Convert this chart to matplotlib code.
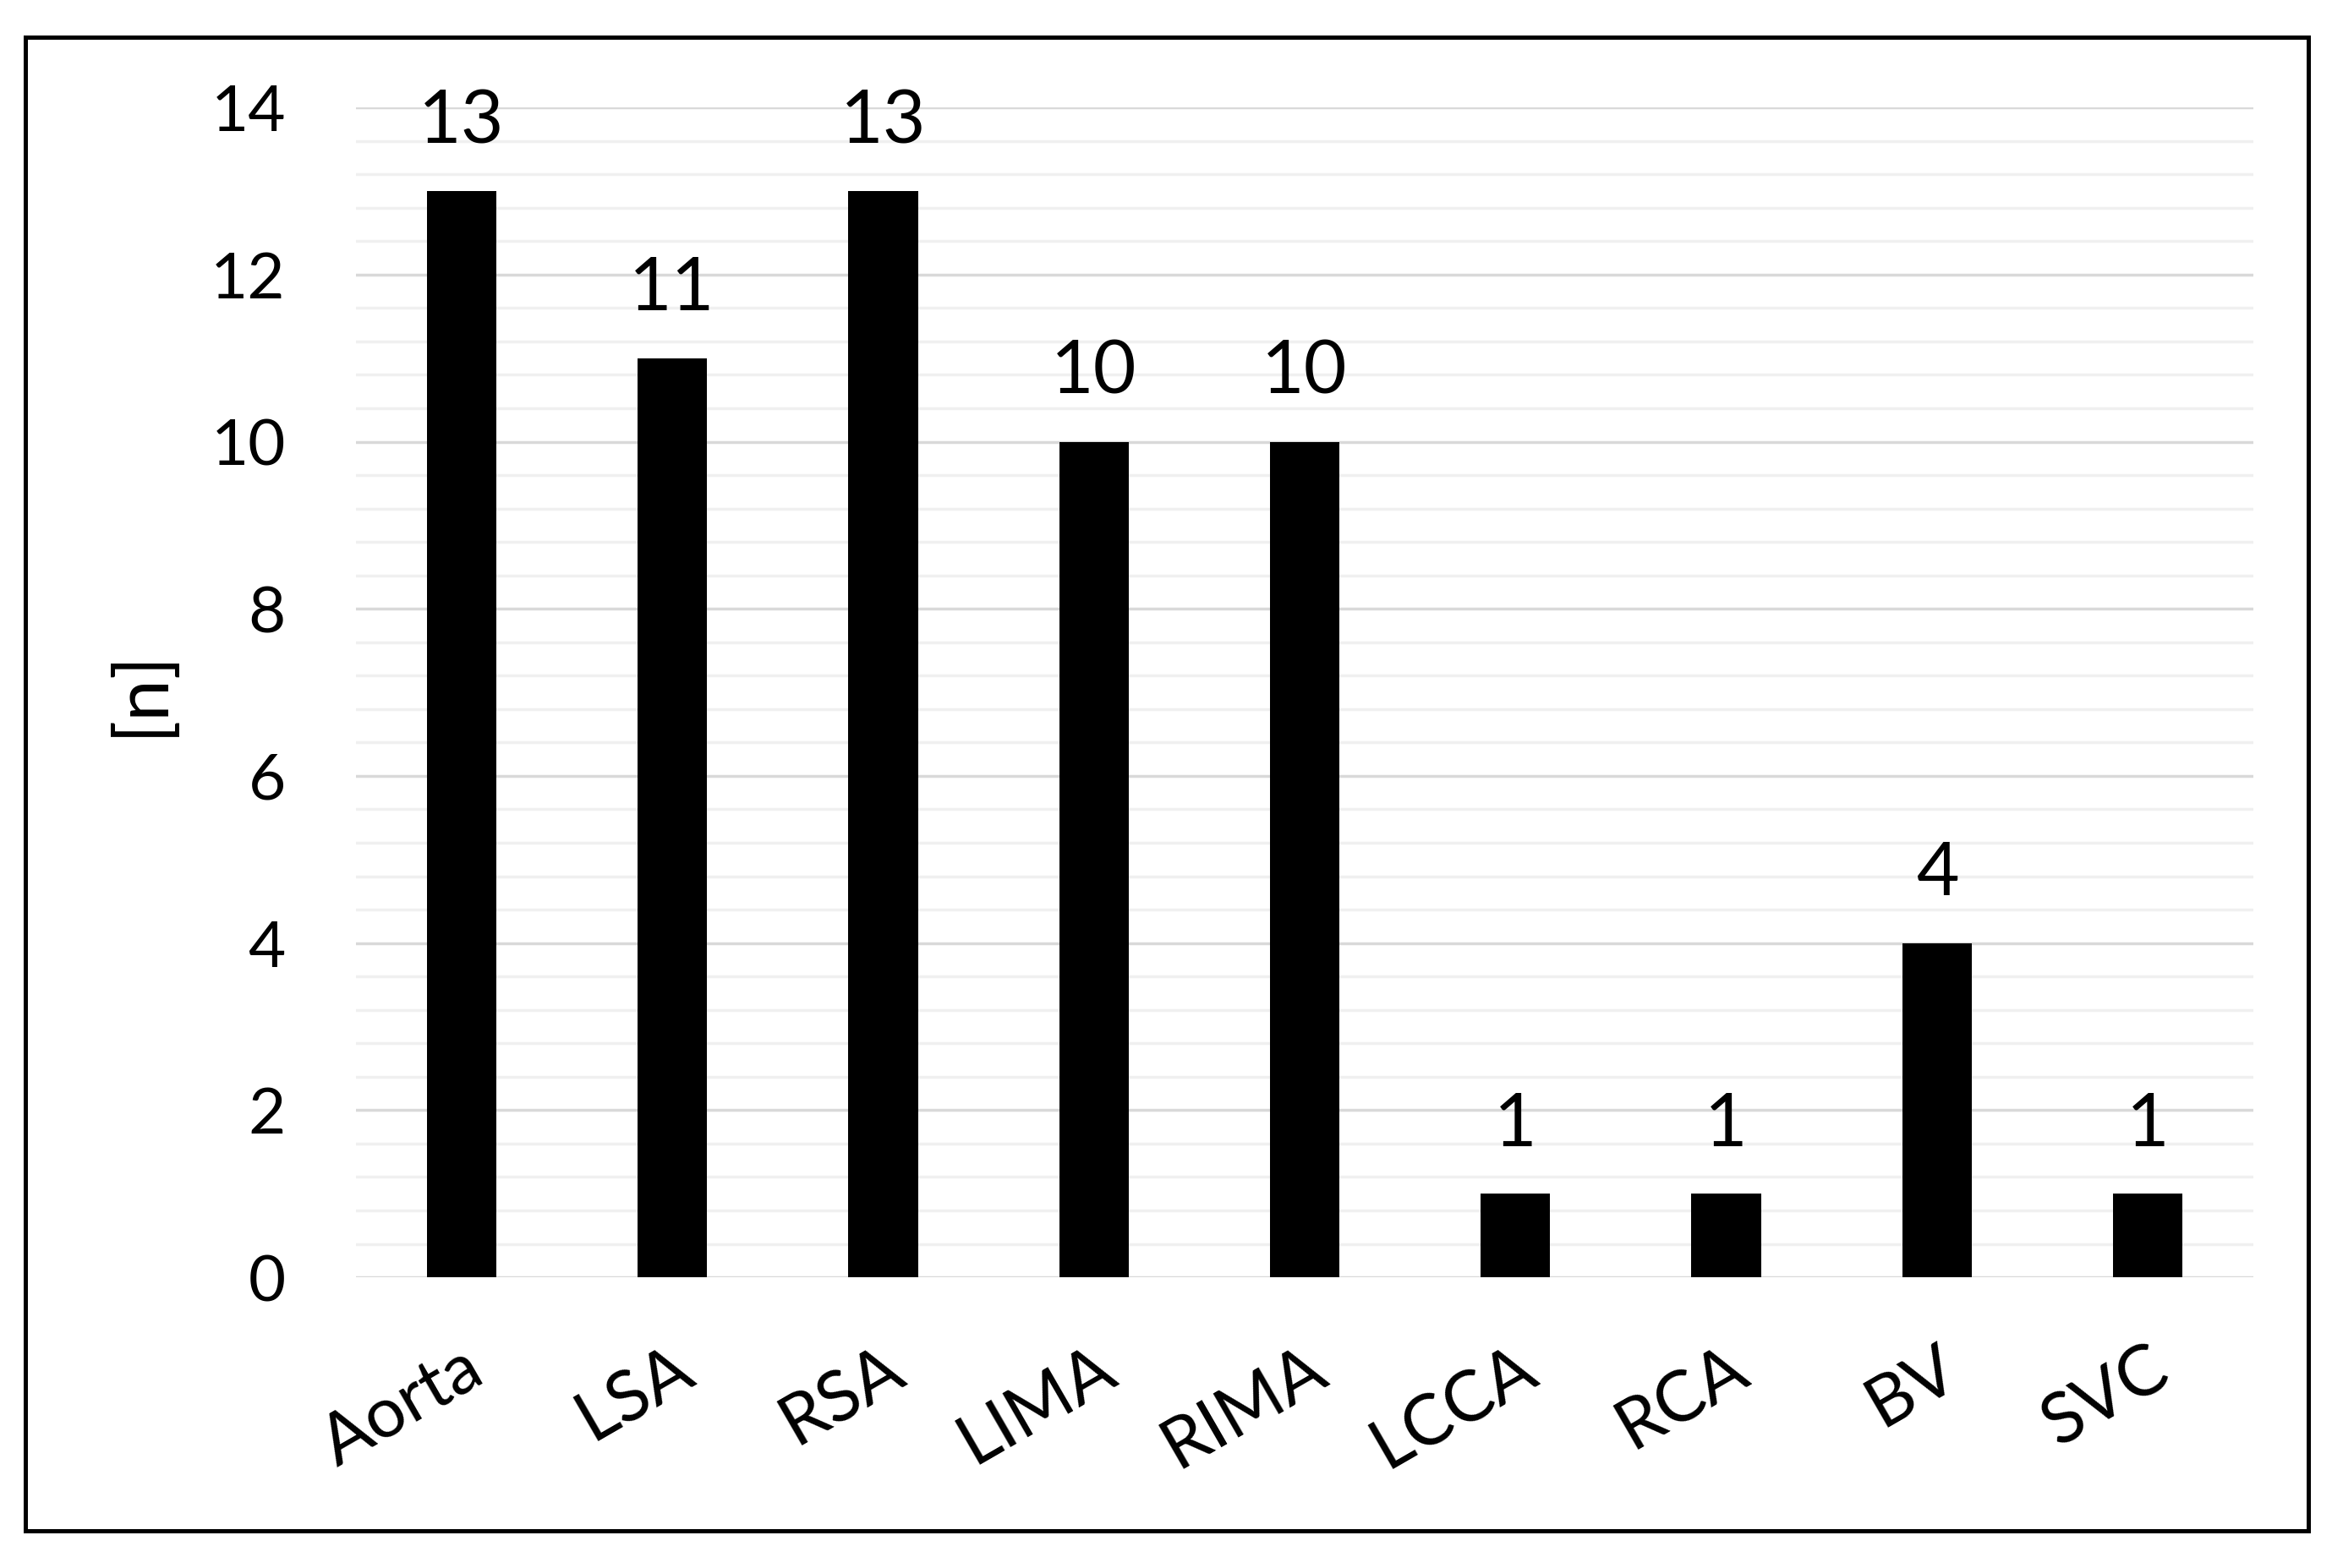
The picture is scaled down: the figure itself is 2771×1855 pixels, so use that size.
import numpy as np
import matplotlib
matplotlib.use("Agg")
import matplotlib.pyplot as plt
from matplotlib.patches import Rectangle
from matplotlib.ticker import MultipleLocator

# Data
categories = ["Aorta", "LSA", "RSA", "LIMA", "RIMA", "LCCA", "RCA", "BV", "SVC"]
counts = [13, 11, 13, 10, 10, 1, 1, 4, 1]

plt.rcParams["font.family"] = ["Lato", "DejaVu Sans"]

fig = plt.figure(figsize=(27.71, 18.55), dpi=100)
ax = fig.add_axes([0.152, 0.1854, 0.8097, 0.7461])

x = np.arange(len(categories))
ax.bar(x, counts, width=0.33, color="black", zorder=3)

for xi, v in zip(x, counts):
    ax.annotate(str(v), (xi, v), xytext=(0, 30), textcoords="offset points",
                ha="center", va="bottom", fontsize=63, color="black")

ax.set_xlim(-0.5, len(categories) - 0.5)
ax.set_ylim(0, 14)
ax.yaxis.set_major_locator(MultipleLocator(2))
ax.yaxis.set_minor_locator(MultipleLocator(0.4))
ax.grid(axis="y", which="major", color="#d9d9d9", linewidth=2.5, zorder=0)
ax.grid(axis="y", which="minor", color="#f0f0f0", linewidth=2.5, zorder=0)
ax.set_axisbelow(True)

for s in ax.spines.values():
    s.set_visible(False)

ax.tick_params(axis="y", which="both", length=0, pad=60, labelsize=55)
ax.tick_params(axis="x", length=0, pad=50, labelsize=60)
ax.set_xticks(x)
ax.set_xticklabels(categories, rotation=30, ha="right", rotation_mode="anchor")

ax.set_ylabel("[n]", fontsize=64, labelpad=30)

fig.patches.append(Rectangle((0.0108, 0.0237), 0.9744, 0.9526, transform=fig.transFigure,
                             fill=False, edgecolor="black", linewidth=3.6))

fig.savefig("out.png", dpi=100)
